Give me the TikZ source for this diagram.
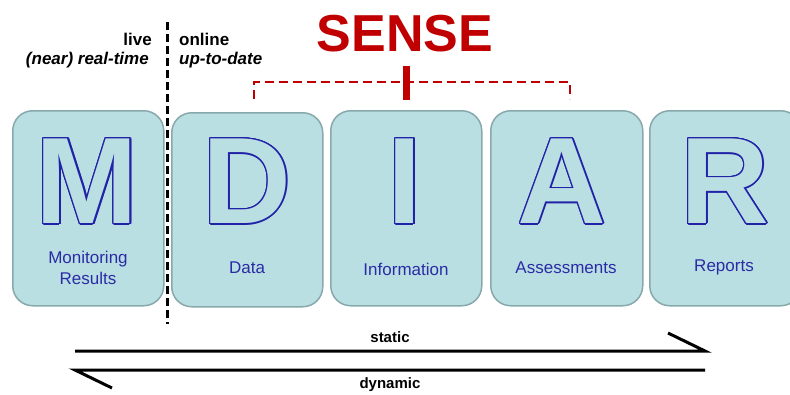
\documentclass[tikz,border=0pt]{standalone}
\usepackage{fontspec}
\setmainfont{Liberation Sans}
\usepackage{contour}
\contourlength{1.5pt}
\contournumber{16}
\definecolor{boxfill}{HTML}{B9DFE2}
\definecolor{boxline}{HTML}{88A9AB}
\definecolor{letterblue}{HTML}{2222A8}
\definecolor{labelblue}{HTML}{2B2BA6}
\definecolor{sensered}{HTML}{C00000}
\newcommand{\outlined}[1]{\contour{letterblue}{\fontsize{123}{123}\selectfont\bfseries\textcolor{boxfill}{#1}}}
\tikzset{
  card/.style={draw=boxline, line width=1.5pt, fill=boxfill, rounded corners=20pt, anchor=north west, inner sep=0pt},
  bigletter/.style={font=\fontsize{123}{123}\selectfont\bfseries, inner sep=0pt},
  cardlabel/.style={font=\fontsize{17}{21}\selectfont, text=labelblue, align=center, inner sep=0pt},
  toplabel/.style={font=\fontsize{17}{21}\selectfont\bfseries, inner sep=0pt},
  flowline/.style={line width=3pt, black},
  divider/.style={line width=3pt, black, dash pattern=on 8pt off 4pt},
  sensebracket/.style={line width=2.5pt, sensered, dash pattern=on 9pt off 5pt},
}
\begin{document}
\begin{tikzpicture}[x=1pt,y=-1pt]
\useasboundingbox (0,0) rectangle (790,394);
\begin{scope}
\clip (0,0) rectangle (790,394);
% cards
\node[card, minimum width=151pt, minimum height=195pt] (m) at (12,110) {};
\node[card, minimum width=151pt, minimum height=194pt] (d) at (171,112) {};
\node[card, minimum width=151pt, minimum height=195pt] (i) at (330,110) {};
\node[card, minimum width=152pt, minimum height=195pt] (a) at (490,110) {};
\node[card, minimum width=151pt, minimum height=195pt] (r) at (649,110) {};
\end{scope}
% big letters
\node[bigletter] (lm) at (87,182) {\outlined{M}};
\node[bigletter] (ld) at (247,182) {\outlined{D}};
\node[bigletter] (li) at (405,182) {\outlined{I}};
\node[bigletter] (la) at (562,182) {\outlined{A}};
\node[bigletter] (lr) at (725,182) {\outlined{R}};
% labels
\node[cardlabel] (tm) at (88,268) {Monitoring\\Results};
\node[cardlabel] (td) at (247,268) {Data};
\node[cardlabel] (ti) at (406,269) {Information};
\node[cardlabel] (ta) at (566,268) {Assessments};
\node[cardlabel] (tr) at (724,267) {Reports};
% top labels
\node[toplabel, anchor=east] (live) at (152,39) {live};
\node[toplabel, anchor=east] (near) at (149,60) {\itshape (near) real-time};
\node[toplabel, anchor=west] (online) at (179,39) {online};
\node[toplabel, anchor=west] (uptodate) at (179,60) {\itshape up-to-date};
% divider
\coordinate (dtop) at (167,22);
\coordinate (dbot) at (167,324);
\draw[divider] (dtop) -- (dbot);
% SENSE
\node[font=\fontsize{52}{52}\selectfont\bfseries, text=sensered, inner sep=0pt] (sense) at (405,34) {SENSE};
\coordinate (bl) at (254,99);
\coordinate (blt) at (254,82);
\coordinate (brt) at (570,82);
\coordinate (br) at (570,99);
\draw[sensebracket] (bl) -- (blt) -- (brt) -- (br);
\coordinate (ctop) at (406,66);
\coordinate (cbot) at (406,100);
\draw[line width=7pt, sensered] (ctop) -- (cbot);
% flow arrows
\coordinate (s1) at (75,351);
\coordinate (s2) at (705,351);
\coordinate (s3) at (668,333);
\draw[flowline, line join=miter] (s1) -- (s2) -- (s3);
\coordinate (d1) at (705,370);
\coordinate (d2) at (75,370);
\coordinate (d3) at (112,388);
\draw[flowline, line join=miter] (d1) -- (d2) -- (d3);
\node[toplabel, font=\fontsize{15}{18}\selectfont\bfseries] (static) at (390,337) {static};
\node[toplabel, font=\fontsize{15}{18}\selectfont\bfseries] (dynamic) at (390,385) {dynamic};
\end{tikzpicture}
\end{document}
